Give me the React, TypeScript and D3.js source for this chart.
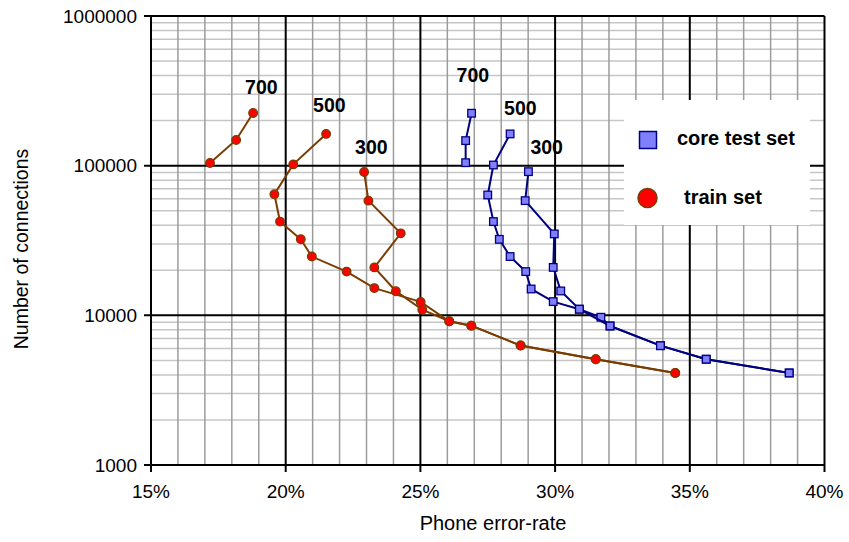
import React from 'react';
import * as d3 from 'd3';

// error rates in %, connections as counts
const train700Err = [18.79, 18.16, 17.19];
const train700Conn = [225000, 148500, 104200];
const train500Err = [21.5, 20.28, 19.58, 19.79, 20.56, 20.97, 22.26, 23.29, 25.01, 26.07, 26.89, 28.72, 31.51, 34.46];
const train500Conn = [163000, 102000, 64400, 42300, 32200, 24700, 19600, 15200, 12300, 9130, 8530, 6280, 5090, 4120];
const train300Err = [22.91, 23.07, 24.27, 23.29, 24.09, 25.07, 26.07, 26.89, 28.72, 31.51, 34.46];
const train300Conn = [90800, 58400, 35300, 20900, 14500, 10900, 9130, 8530, 6280, 5090, 4120];

const core700Err = [26.9, 26.68, 26.68];
const core700Conn = [224000, 147000, 104700];
const core500Err = [28.33, 27.71, 27.5, 27.71, 27.93, 28.33, 28.91, 29.11, 29.93, 30.9, 31.7, 32.04, 33.91, 35.61, 38.69];
const core500Conn = [163000, 101000, 63700, 42300, 32200, 24700, 19600, 15000, 12350, 10990, 9710, 8490, 6270, 5090, 4120];
const core300Err = [29.01, 28.89, 29.97, 29.93, 30.21, 30.9, 32.04, 33.91, 35.61, 38.69];
const core300Conn = [91200, 58400, 35000, 20900, 14550, 10990, 8490, 6270, 5090, 4120];

const xTicks = [15, 20, 25, 30, 35, 40];
const yTicks = [1000, 10000, 100000, 1000000];
const seriesNames = ['core test set', 'train set'];

const FONT = 'Liberation Sans, Arial, sans-serif';
const W = 849, H = 542;
const left = 151, right = 824.5, top = 16, bottom = 465;

const x = d3.scaleLinear().domain([15, 40]).range([left, right]);
const y = d3.scaleLog().domain([1000, 1000000]).range([bottom, top]);

const zip = (e: number[], c: number[]) => e.map((v, i) => [v, c[i]] as [number, number]);

const train = [
  { pts: zip(train700Err, train700Conn), label: '700', dx: -8, dy: -19 },
  { pts: zip(train500Err, train500Conn), label: '500', dx: -13, dy: -22 },
  { pts: zip(train300Err, train300Conn), label: '300', dx: -9, dy: -18 },
];
const core = [
  { pts: zip(core700Err, core700Conn), label: '700', dx: -15, dy: -31 },
  { pts: zip(core500Err, core500Conn), label: '500', dx: -6, dy: -19 },
  { pts: zip(core300Err, core300Conn), label: '300', dx: 2, dy: -18 },
];

const line = d3.line<[number, number]>().x(d => x(d[0])).y(d => y(d[1]));

const trainStroke = '#7a3c00';
const coreStroke = '#000080';

export default function App() {
  const minorX = d3.range(16, 40).filter(v => v % 5 !== 0);
  const minorY: number[] = [];
  [1000, 10000, 100000].forEach(d => { for (let k = 2; k <= 9; k++) minorY.push(d * k); });

  return (
    <svg width={W} height={H} style={{ position: 'absolute', left: 0, top: 0, background: '#fff' }}
      fontFamily={FONT}>
      <rect width={W} height={H} fill="#fff" />
      {/* grid */}
      {minorY.map(v => (
        <line key={'hy' + v} x1={left} x2={right} y1={y(v)} y2={y(v)} stroke="#c6c6c6" strokeWidth={1.5} />
      ))}
      {minorX.map(v => (
        <line key={'vx' + v} x1={x(v)} x2={x(v)} y1={top} y2={bottom} stroke="#9c9c9c" strokeWidth={1.5} />
      ))}
      {yTicks.map(v => (
        <line key={'my' + v} x1={left - 7} x2={right} y1={y(v)} y2={y(v)} stroke="#000" strokeWidth={2} />
      ))}
      {xTicks.map(v => (
        <line key={'mx' + v} x1={x(v)} x2={x(v)} y1={top} y2={bottom + 7} stroke="#000" strokeWidth={2} />
      ))}

      {/* legend box */}
      <rect x={624} y={100} width={186} height={125} fill="#fff" />
      <rect x={639.5} y={131.5} width={17} height={17} fill="#8080ff" stroke={coreStroke} strokeWidth={1.5} />
      <text x={677} y={145} fontSize={20} fontWeight="bold">{seriesNames[0]}</text>
      <circle cx={647.5} cy={198} r={9.5} fill="#ff0000" stroke={trainStroke} strokeWidth={1.5} />
      <text x={684} y={204} fontSize={20} fontWeight="bold">{seriesNames[1]}</text>

      {/* train set */}
      {train.map((s, i) => (
        <g key={'t' + i}>
          <path d={line(s.pts) || ''} fill="none" stroke={trainStroke} strokeWidth={2} />
          {s.pts.map((p, j) => (
            <circle key={j} cx={x(p[0])} cy={y(p[1])} r={4.3} fill="#ff0000" stroke={trainStroke} strokeWidth={1.3} />
          ))}
          <text x={x(s.pts[0][0]) + s.dx} y={y(s.pts[0][1]) + s.dy} fontSize={19.5} fontWeight="bold">{s.label}</text>
        </g>
      ))}

      {/* core test set */}
      {core.map((s, i) => (
        <g key={'c' + i}>
          <path d={line(s.pts) || ''} fill="none" stroke={coreStroke} strokeWidth={2} />
          {s.pts.map((p, j) => (
            <rect key={j} x={x(p[0]) - 3.8} y={y(p[1]) - 3.8} width={7.6} height={7.6} fill="#8080ff" stroke={coreStroke} strokeWidth={1.3} />
          ))}
          <text x={x(s.pts[0][0]) + s.dx} y={y(s.pts[0][1]) + s.dy} fontSize={19.5} fontWeight="bold">{s.label}</text>
        </g>
      ))}

      {/* axes labels */}
      {yTicks.map(v => (
        <text key={'yl' + v} x={137} y={y(v)} dy="0.35em" textAnchor="end" fontSize={19}>{v}</text>
      ))}
      {xTicks.map(v => (
        <text key={'xl' + v} x={x(v)} y={498} textAnchor="middle" fontSize={19}>{v + '%'}</text>
      ))}
      <text x={493} y={530} textAnchor="middle" fontSize={20}>Phone error-rate</text>
      <text transform={`translate(28,249) rotate(-90)`} textAnchor="middle" fontSize={19.5}>Number of connections</text>
    </svg>
  );
}
